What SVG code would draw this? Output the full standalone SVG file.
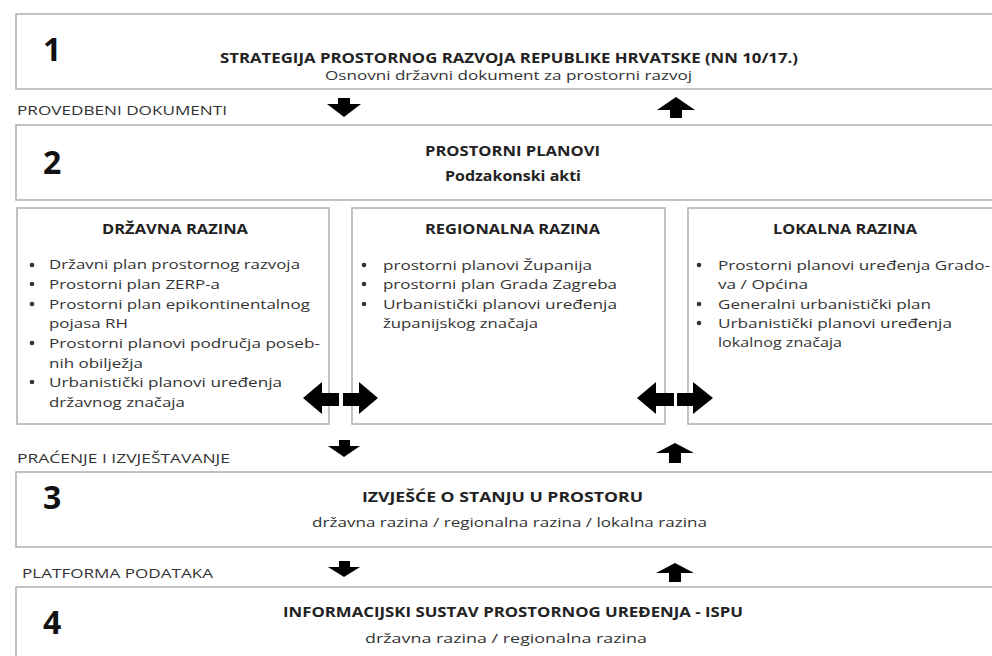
<svg xmlns="http://www.w3.org/2000/svg" width="992" height="656" viewBox="0 0 992 656">
<style>
.box{fill:#fff;stroke:#b4b4b4;stroke-width:1.6}
.num{font-family:"Open Sans","Liberation Sans",sans-serif;font-size:32px;font-weight:700;fill:#111}
.t{font-family:"Open Sans","Liberation Sans",sans-serif;font-size:13.5px;font-weight:700;fill:#222}
.s{font-family:"Open Sans","Liberation Sans",sans-serif;font-size:13.5px;fill:#333}
.lab{font-family:"Open Sans","Liberation Sans",sans-serif;font-size:13px;fill:#333}
.b{fill:#333}
.arr{fill:#000}
</style>
<rect width="992" height="656" fill="#fff"/>

<g id="box1">
<rect class="box" x="16" y="14" width="990" height="75"/>
<text class="num" x="43" y="61">1</text>
<text class="t" x="220" y="63" textLength="578" lengthAdjust="spacingAndGlyphs">STRATEGIJA PROSTORNOG RAZVOJA REPUBLIKE HRVATSKE (NN 10/17.)</text>
<text class="s" x="325" y="80" textLength="367" lengthAdjust="spacingAndGlyphs">Osnovni državni dokument za prostorni razvoj</text>
</g>

<g id="label-provedbeni">
<text class="lab" x="17" y="115" textLength="210" lengthAdjust="spacingAndGlyphs">PROVEDBENI DOKUMENTI</text>
</g>

<g id="box2">
<rect class="box" x="16" y="125" width="990" height="75"/>
<text class="num" x="43" y="174">2</text>
<text class="t" x="425" y="156" textLength="175" lengthAdjust="spacingAndGlyphs">PROSTORNI PLANOVI</text>
<text class="t" x="445" y="181" textLength="136" lengthAdjust="spacingAndGlyphs">Podzakonski akti</text>
</g>

<g id="drzavna">
<rect class="box" x="17" y="208" width="312" height="216"/>
<text class="t" x="102" y="234" textLength="146" lengthAdjust="spacingAndGlyphs">DRŽAVNA RAZINA</text>
<circle class="b" cx="32" cy="265" r="2.3"/>
<circle class="b" cx="32" cy="284" r="2.3"/>
<circle class="b" cx="32" cy="304" r="2.3"/>
<circle class="b" cx="32" cy="343" r="2.3"/>
<circle class="b" cx="32" cy="382" r="2.3"/>
<text class="s" x="49" y="269" textLength="251" lengthAdjust="spacingAndGlyphs">Državni plan prostornog razvoja</text>
<text class="s" x="49" y="289" textLength="171" lengthAdjust="spacingAndGlyphs">Prostorni plan ZERP-a</text>
<text class="s" x="49" y="309" textLength="261" lengthAdjust="spacingAndGlyphs">Prostorni plan epikontinentalnog</text>
<text class="s" x="49" y="328" textLength="79" lengthAdjust="spacingAndGlyphs">pojasa RH</text>
<text class="s" x="49" y="348" textLength="271" lengthAdjust="spacingAndGlyphs">Prostorni planovi područja poseb-</text>
<text class="s" x="49" y="368" textLength="94" lengthAdjust="spacingAndGlyphs">nih obilježja</text>
<text class="s" x="49" y="387" textLength="233" lengthAdjust="spacingAndGlyphs">Urbanistički planovi uređenja</text>
<text class="s" x="49" y="407" textLength="136" lengthAdjust="spacingAndGlyphs">državnog značaja</text>
</g>

<g id="regionalna">
<rect class="box" x="352" y="208" width="313" height="216"/>
<text class="t" x="425" y="234" textLength="175" lengthAdjust="spacingAndGlyphs">REGIONALNA RAZINA</text>
<circle class="b" cx="364" cy="265" r="2.3"/>
<circle class="b" cx="364" cy="284" r="2.3"/>
<circle class="b" cx="364" cy="304" r="2.3"/>
<text class="s" x="383" y="270" textLength="209" lengthAdjust="spacingAndGlyphs">prostorni planovi Županija</text>
<text class="s" x="383" y="289" textLength="234" lengthAdjust="spacingAndGlyphs">prostorni plan Grada Zagreba</text>
<text class="s" x="383" y="309" textLength="234" lengthAdjust="spacingAndGlyphs">Urbanistički planovi uređenja</text>
<text class="s" x="383" y="328" textLength="155" lengthAdjust="spacingAndGlyphs">županijskog značaja</text>
</g>

<g id="lokalna">
<rect class="box" x="688" y="208" width="320" height="216"/>
<text class="t" x="773" y="234" textLength="144" lengthAdjust="spacingAndGlyphs">LOKALNA RAZINA</text>
<circle class="b" cx="699" cy="265" r="2.3"/>
<circle class="b" cx="699" cy="304" r="2.3"/>
<circle class="b" cx="699" cy="323" r="2.3"/>
<text class="s" x="718" y="270" textLength="272" lengthAdjust="spacingAndGlyphs">Prostorni planovi uređenja Grado-</text>
<text class="s" x="718" y="289" textLength="90" lengthAdjust="spacingAndGlyphs">va / Općina</text>
<text class="s" x="718" y="309" textLength="213" lengthAdjust="spacingAndGlyphs">Generalni urbanistički plan</text>
<text class="s" x="718" y="328" textLength="234" lengthAdjust="spacingAndGlyphs">Urbanistički planovi uređenja</text>
<text class="s" x="718" y="347" textLength="124" lengthAdjust="spacingAndGlyphs">lokalnog značaja</text>
</g>

<g id="label-pracenje">
<text class="lab" x="17" y="463" textLength="213" lengthAdjust="spacingAndGlyphs">PRAĆENJE I IZVJEŠTAVANJE</text>
</g>

<g id="box3">
<rect class="box" x="16" y="472" width="990" height="75"/>
<text class="num" x="43" y="509">3</text>
<text class="t" x="362" y="502" textLength="281" lengthAdjust="spacingAndGlyphs">IZVJEŠĆE O STANJU U PROSTORU</text>
<text class="s" x="312" y="527" textLength="395" lengthAdjust="spacingAndGlyphs">državna razina / regionalna razina / lokalna razina</text>
</g>

<g id="label-platforma">
<text class="lab" x="22" y="578" textLength="191" lengthAdjust="spacingAndGlyphs">PLATFORMA PODATAKA</text>
</g>

<g id="box4">
<rect class="box" x="16" y="587" width="990" height="100"/>
<text class="num" x="43" y="634">4</text>
<text class="t" x="283" y="617" textLength="460" lengthAdjust="spacingAndGlyphs">INFORMACIJSKI SUSTAV PROSTORNOG UREĐENJA - ISPU</text>
<text class="s" x="365" y="643" textLength="282" lengthAdjust="spacingAndGlyphs">državna razina / regionalna razina</text>
</g>

<g id="connectors">
<!-- vertical: box1 <-> box2 -->
<path class="arr" d="M338,98 H350 V104 H361 L344,117 L327,104 H338 Z"/>
<path class="arr" d="M676,97 L695,110 H682 V118 H670 V110 H657 Z"/>
<!-- vertical: box2 <-> box3 -->
<path class="arr" d="M339,440 H350 V446 H360 L344,457 L328,446 H339 Z"/>
<path class="arr" d="M675,443 L694,453 H681 V463 H669 V453 H656 Z"/>
<!-- vertical: box3 <-> box4 -->
<path class="arr" d="M339,561 H350 V567 H360 L344,577 L328,567 H339 Z"/>
<path class="arr" d="M675,563 L694,573 H681 V582 H669 V573 H656 Z"/>
<!-- horizontal: drzavna <-> regionalna -->
<path class="arr" d="M303,398 L322,382 V393 H339 V406 H322 V414 Z"/>
<path class="arr" d="M378,398 L359,382 V393 H343 V406 H359 V414 Z"/>
<!-- horizontal: regionalna <-> lokalna -->
<path class="arr" d="M637,398 L656,382 V393 H674 V406 H656 V414 Z"/>
<path class="arr" d="M713,398 L693,382 V393 H677 V406 H693 V414 Z"/>
</g>
</svg>
